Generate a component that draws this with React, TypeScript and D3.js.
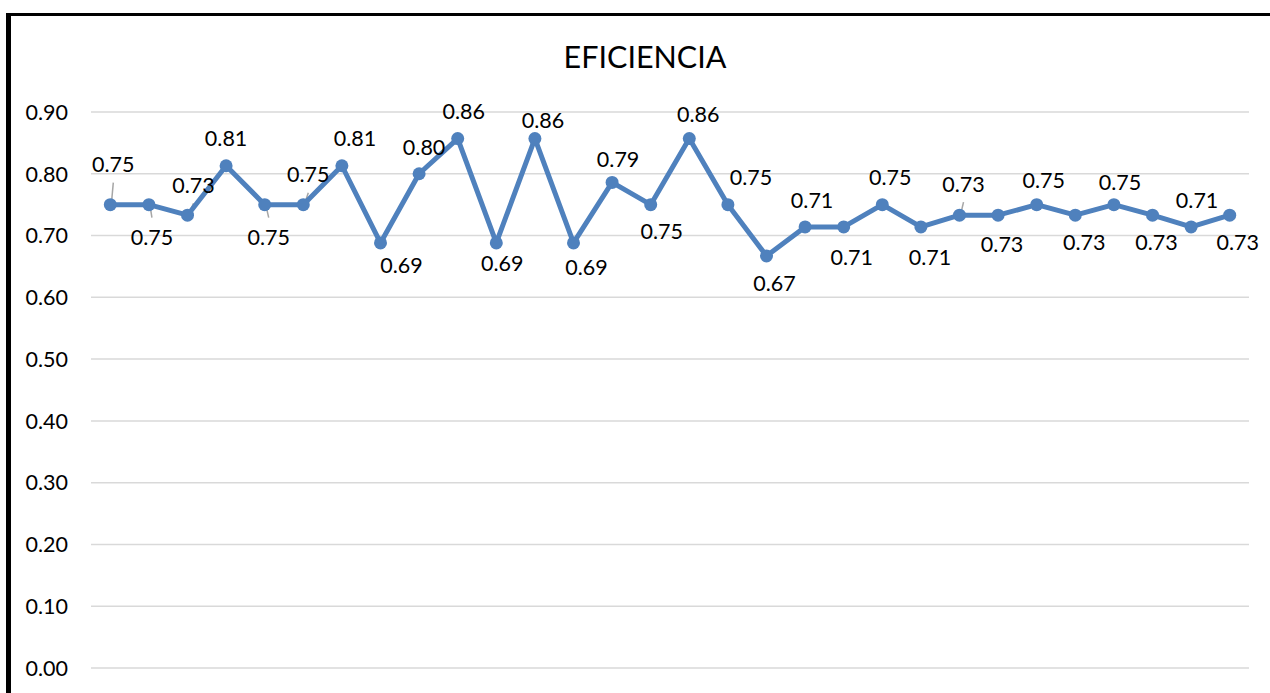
import React from "react";
import * as d3 from "d3";

// Chart values
const title = "EFICIENCIA";
const categories: string[] = Array.from({ length: 30 }, (_, i) => `${i + 1}`);
const eficiencia: number[] = [
    0.75, 0.75, 0.733, 0.813, 0.75, 0.75, 0.813, 0.688, 0.8, 0.857,
    0.688, 0.857, 0.688, 0.786, 0.75, 0.857, 0.75, 0.667, 0.714, 0.714,
    0.75, 0.714, 0.733, 0.733, 0.75, 0.733, 0.75, 0.733, 0.714, 0.733,
];
const yTicks: number[] = [0, 0.1, 0.2, 0.3, 0.4, 0.5, 0.6, 0.7, 0.8, 0.9];

// Data label placement (offset of label centre from the marker), and which labels have leader lines
const labelOffsets: [number, number][] = [
    [3, -40], [3, 33], [6, -30], [0, -27], [4, 33], [5, -30], [13, -27], [21, 22], [5, -27], [6, -27],
    [6, 20], [8, -18], [13, 24], [6, -23], [11, 27], [9, -24], [23, -27], [8, 27], [7, -27], [8, 30],
    [8, -27], [9, 30], [4, -31], [4, 29], [7, -24], [9, 27], [6, -22], [4, 27], [6, -27], [8, 27],
];
const leaders: number[] = [0, 1, 2, 4, 5, 22];

const width = 1270;
const height = 693;
const plotLeft = 91;
const plotRight = 1249;
const plotTop = 112;
const plotBottom = 668;
const lineColor = "#4f81bd";
const font = "Lato, 'Open Sans', sans-serif";

const App: React.FC = () => {
    const xScale = d3.scaleBand<string>().domain(categories).range([plotLeft, plotRight]);
    const yScale = d3.scaleLinear().domain([0, 0.9]).range([plotBottom, plotTop]);
    const cx = (i: number) => xScale(categories[i])! + xScale.bandwidth() / 2;

    const line = d3.line<number>()
        .x((_, i) => cx(i))
        .y(d => yScale(d));

    return (
        <svg width={width} height={height} style={{ position: "absolute", left: 0, top: 0, background: "#fff" }}>
            {/* Frame (only left and top edges visible) */}
            <rect x={6} y={13} width={width - 6} height={3} fill="#000" />
            <rect x={6} y={13} width={5} height={height - 13} fill="#000" />

            {/* Title */}
            <text x={645} y={68} textAnchor="middle" fontFamily={font} fontSize={30.5} fill="#000">
                {title}
            </text>

            {/* Grid lines */}
            {yTicks.map(t => (
                <line key={`g-${t}`} x1={plotLeft} x2={plotRight} y1={yScale(t)} y2={yScale(t)}
                    stroke="#d9d9d9" strokeWidth={1.5} />
            ))}

            {/* Y-axis labels */}
            {yTicks.map(t => (
                <text key={`t-${t}`} x={68} y={yScale(t)} dy="0.36em" textAnchor="end"
                    fontFamily={font} fontSize={21.5} fill="#000">
                    {t.toFixed(2)}
                </text>
            ))}

            {/* Leader lines */}
            {leaders.map(i => {
                const [dx, dy] = labelOffsets[i];
                const px = cx(i);
                const py = yScale(eficiencia[i]);
                const endY = py + dy + (dy < 0 ? 18 : -20);
                return (
                    <line key={`l-${i}`} x1={px + 1} y1={py} x2={px + dx} y2={endY}
                        stroke="#a6a6a6" strokeWidth={1.5} />
                );
            })}

            {/* Series line */}
            <path d={line(eficiencia)!} fill="none" stroke={lineColor} strokeWidth={5} strokeLinejoin="round" />
            {eficiencia.map((v, i) => (
                <circle key={`m-${i}`} cx={cx(i)} cy={yScale(v)} r={6.5} fill={lineColor} />
            ))}

            {/* Data labels */}
            {eficiencia.map((v, i) => (
                <text key={`d-${i}`} x={cx(i) + labelOffsets[i][0]} y={yScale(v) + labelOffsets[i][1]}
                    dy="0.36em" textAnchor="middle" fontFamily={font} fontSize={21.5} fill="#000">
                    {v.toFixed(2)}
                </text>
            ))}
        </svg>
    );
};

export default App;
